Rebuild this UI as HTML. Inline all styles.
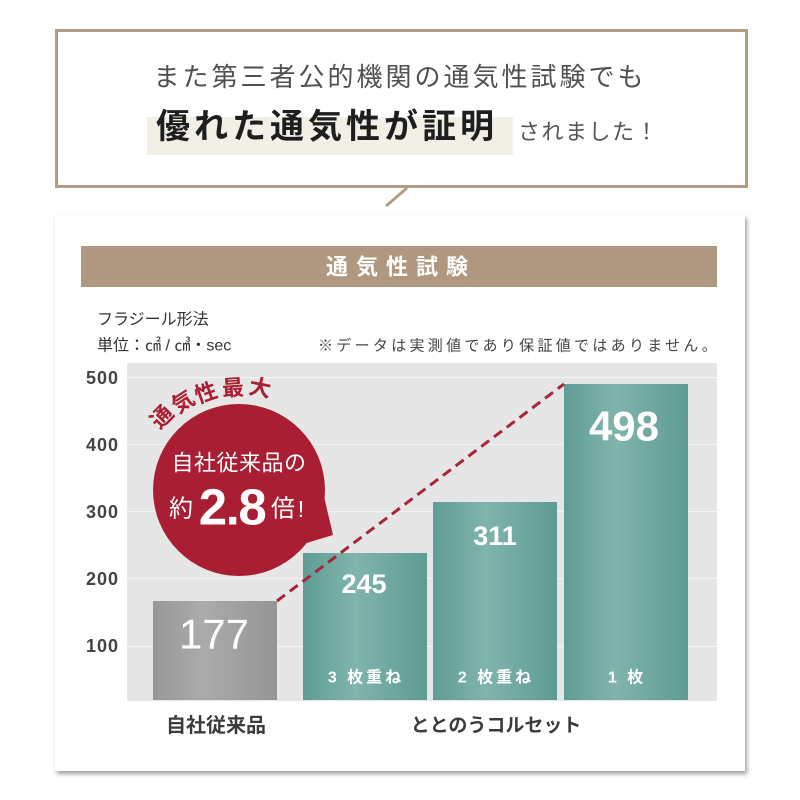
<!DOCTYPE html>
<html>
<head>
<meta charset="utf-8">
<style>
html,body{margin:0;padding:0;background:#fff;}
svg{display:block;}
.jp{font-family:"Liberation Sans","Noto Sans CJK JP",sans-serif;}
.num{font-family:"Liberation Sans",sans-serif;}
</style>
</head>
<body>
<svg width="800" height="800" viewBox="0 0 800 800" xmlns="http://www.w3.org/2000/svg">
<defs>
  <filter id="sh" x="-5%" y="-5%" width="110%" height="110%">
    <feDropShadow dx="2" dy="3" stdDeviation="2" flood-color="#000" flood-opacity="0.38"/>
  </filter>
  <linearGradient id="teal" x1="0" y1="0" x2="1" y2="0">
    <stop offset="0" stop-color="#5f9d94"/>
    <stop offset="0.42" stop-color="#80b4ac"/>
    <stop offset="1" stop-color="#5e9c93"/>
  </linearGradient>
  <linearGradient id="gray" x1="0" y1="0" x2="1" y2="0">
    <stop offset="0" stop-color="#979797"/>
    <stop offset="0.4" stop-color="#ababab"/>
    <stop offset="1" stop-color="#959595"/>
  </linearGradient>
</defs>

<rect width="800" height="800" fill="#fff"/>

<!-- top speech box -->
<rect x="56.5" y="30.5" width="690" height="156" fill="#fff" stroke="#b39c84" stroke-width="3"/>
<line x1="407" y1="188" x2="386" y2="206" stroke="#b39c84" stroke-width="3"/>

<text class="jp" x="400" y="77" text-anchor="middle" dominant-baseline="central" font-size="26" fill="#505050" letter-spacing="3">また第三者公的機関の通気性試験でも</text>
<rect x="147" y="117" width="366" height="38" fill="#f2f0e6"/>
<text class="jp" x="156" y="127" dominant-baseline="central" font-size="34" font-weight="bold" fill="#1e1e1e" letter-spacing="4">優れた通気性が証明</text>
<text class="jp" x="518" y="132" dominant-baseline="central" font-size="22" fill="#555" letter-spacing="1.5">されました！</text>

<!-- card -->
<rect x="55" y="215" width="690" height="556" fill="#fff" filter="url(#sh)"/>
<rect x="81" y="246" width="636" height="41" fill="#b09880"/>
<text class="jp" x="401" y="267" text-anchor="middle" dominant-baseline="central" font-size="22" font-weight="bold" fill="#fff" letter-spacing="8">通気性試験</text>

<text class="jp" x="97" y="320" dominant-baseline="central" font-size="16" fill="#333">フラジール形法</text>
<text class="jp" x="97" y="346" dominant-baseline="central" font-size="16" fill="#333">単位：㎠ / ㎤・sec</text>
<text class="jp" x="318" y="346" dominant-baseline="central" font-size="15" fill="#444" letter-spacing="3.3">※データは実測値であり保証値ではありません。</text>

<!-- chart area -->
<rect x="127" y="363" width="590" height="338" fill="#e6e6e6"/>
<g stroke="#f4f4f4" stroke-width="1">
  <line x1="127" y1="377.5" x2="717" y2="377.5"/>
  <line x1="127" y1="444.5" x2="717" y2="444.5"/>
  <line x1="127" y1="511.5" x2="717" y2="511.5"/>
  <line x1="127" y1="578.5" x2="717" y2="578.5"/>
  <line x1="127" y1="646.5" x2="717" y2="646.5"/>
</g>
<g class="num" font-size="18" font-weight="bold" fill="#444" text-anchor="end" letter-spacing="1">
  <text x="119" y="378" dominant-baseline="central">500</text>
  <text x="119" y="445" dominant-baseline="central">400</text>
  <text x="119" y="512" dominant-baseline="central">300</text>
  <text x="119" y="579" dominant-baseline="central">200</text>
  <text x="119" y="646" dominant-baseline="central">100</text>
</g>

<!-- bars -->
<rect x="153" y="601" width="124" height="99" fill="url(#gray)"/>
<rect x="303" y="553" width="124" height="147" fill="url(#teal)"/>
<rect x="433" y="502" width="124" height="198" fill="url(#teal)"/>
<rect x="564" y="384" width="124" height="316" fill="url(#teal)"/>

<!-- dashed line -->
<line x1="277" y1="601" x2="564" y2="384" stroke="#a6263a" stroke-width="3" stroke-dasharray="10 6"/>

<!-- values -->
<text class="num" x="214" y="634" text-anchor="middle" dominant-baseline="central" font-size="42" fill="#fff">177</text>
<text class="num" x="364" y="584" text-anchor="middle" dominant-baseline="central" font-size="27" font-weight="bold" fill="#fff">245</text>
<text class="num" x="495" y="536" text-anchor="middle" dominant-baseline="central" font-size="27" font-weight="bold" fill="#fff">311</text>
<text class="num" x="624" y="426" text-anchor="middle" dominant-baseline="central" font-size="42" font-weight="bold" fill="#fff">498</text>

<g class="jp" font-size="16" font-weight="bold" fill="#fff" text-anchor="middle" letter-spacing="3">
  <text x="366" y="678" dominant-baseline="central">3 枚重ね</text>
  <text x="496" y="678" dominant-baseline="central">2 枚重ね</text>
  <text x="627" y="678" dominant-baseline="central">1 枚</text>
</g>

<text class="jp" x="216" y="726" text-anchor="middle" dominant-baseline="central" font-size="20" font-weight="bold" fill="#3c3c3c">自社従来品</text>
<text class="jp" x="496" y="726" text-anchor="middle" dominant-baseline="central" font-size="19" font-weight="bold" fill="#3c3c3c">ととのうコルセット</text>

<!-- bubble -->
<circle cx="239" cy="490" r="86" fill="#a91e33"/>
<polygon points="316,462 333,535 300,545" fill="#a91e33"/>
<text class="jp" x="239" y="463" text-anchor="middle" dominant-baseline="central" font-size="22" fill="#fff" letter-spacing="0.5">自社従来品の</text>
<text class="jp" x="181" y="509" text-anchor="middle" dominant-baseline="central" font-size="24" fill="#fff">約</text>
<text class="num" x="232" y="507" text-anchor="middle" dominant-baseline="central" font-size="51" font-weight="bold" fill="#fff" letter-spacing="-1.5">2.8</text>
<text class="jp" x="283" y="509" text-anchor="middle" dominant-baseline="central" font-size="24" fill="#fff">倍</text>
<text class="jp" x="301" y="509" text-anchor="middle" dominant-baseline="central" font-size="23" fill="#fff">!</text>

<!-- arc text -->
<g class="jp" font-size="22" font-weight="bold" fill="#a91e33" text-anchor="middle">
  <text transform="translate(162,417) rotate(-46)" dominant-baseline="central">通</text>
  <text transform="translate(183,402) rotate(-33)" dominant-baseline="central">気</text>
  <text transform="translate(206,393) rotate(-19)" dominant-baseline="central">性</text>
  <text transform="translate(233,388) rotate(-4)" dominant-baseline="central">最</text>
  <text transform="translate(260,388) rotate(11)" dominant-baseline="central">大</text>
</g>
</svg>
</body>
</html>
